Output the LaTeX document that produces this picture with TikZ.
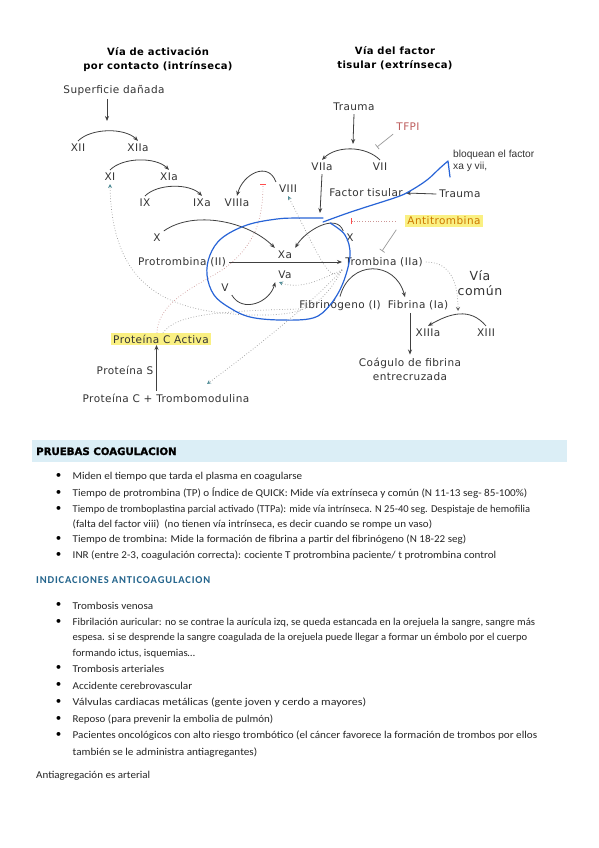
\documentclass[tikz,border=0pt]{standalone}
\usepackage{fontspec}
\setmainfont{DejaVu Sans}[LetterSpace=4]
\newfontfamily\notefont{Carlito}
\newfontfamily\handfont{Liberation Sans}
\newfontfamily\heavyfont{DejaVu Sans Bold}[FakeBold=1.5]
\newcommand{\fitw}[2]{\resizebox{#1pt}{\height}{#2}}
\usetikzlibrary{arrows.meta,calc}
\definecolor{penblue}{RGB}{40,100,215}
\definecolor{hlyellow}{RGB}{250,240,130}
\definecolor{antiorange}{RGB}{205,120,0}
\definecolor{tfpired}{RGB}{190,95,95}
\definecolor{fbteal}{RGB}{80,140,150}
\definecolor{bandblue}{RGB}{219,238,246}
\definecolor{headteal}{RGB}{35,100,140}
\definecolor{inhred}{RGB}{205,150,150}

\begin{document}
\begin{tikzpicture}[x=1pt,y=1pt,
  lbl/.style={font=\fontsize{10.5}{12}\selectfont, inner sep=3pt, text=black!80},
  ttl/.style={font=\fontsize{10}{14}\selectfont\bfseries, align=center},
  arc/.style={draw=black!75, line width=0.8pt, -{Stealth[length=5pt,width=4pt]}},
  fb/.style={draw=black!40, dotted, line width=0.7pt, -{Stealth[length=4pt,width=4pt,color=fbteal]}},
  inh/.style={draw=inhred, dotted, line width=0.7pt, -{Bar[width=6pt,color=red!70]}},
  blk/.style={draw=black!40, line width=0.7pt, -{Bar[width=6pt]}},
  pen/.style={draw=penblue, line width=1.2pt, line cap=round, line join=round},
  hl/.style={fill=hlyellow, inner xsep=2pt, inner ysep=1.5pt},
  note/.style={font=\notefont\fontsize{10.5}{13}\selectfont, anchor=base west, inner sep=0pt, text=black!85},
  bul/.style={note, label={[font=\notefont\fontsize{11}{13}\selectfont, inner sep=0pt, label distance=11pt]left:\textbullet}},
]
\fill[white] (0,0) rectangle (599,-848);
\useasboundingbox (0,0) rectangle (599,-848);

\node[ttl] (titleint) at (158,-60) {Vía de activación\\por contacto (intrínseca)};
\node[ttl] (titleext) at (395,-58) {Vía del factor\\tisular (extrínseca)};

\node[lbl] (sup) at (114,-91) {Superficie dañada};
\coordinate (c12) at (107,-121);
\node[lbl] (xii) at (78,-148) {XII};
\node[lbl] (xiia) at (138,-148) {XIIa};
\node[lbl] (xi) at (110,-177) {XI};
\node[lbl] (xia) at (169,-177) {XIa};
\node[lbl] (ix) at (145,-203) {IX};
\node[lbl] (ixa) at (202,-203) {IXa};
\node[lbl] (viiia) at (237,-203) {VIIIa};
\node[lbl] (viii) at (288,-189) {VIII};
\node[lbl] (xleft) at (157,-238) {X};
\node[lbl] (xa) at (285,-255) {Xa};
\node[lbl] (va) at (285,-275) {Va};
\node[lbl] (pro) at (182,-262) {Protrombina (II)};
\node[lbl] (trom) at (384,-262) {Trombina (IIa)};
\node[lbl] (v) at (225,-288) {V};

\node[lbl] (traumatop) at (354,-107) {Trauma};
\coordinate (c7) at (353,-144);
\node[lbl, text=tfpired] (tfpi) at (408,-127) {TFPI};
\coordinate (ctfpi) at (377,-147);
\node[lbl] (viia) at (322,-167) {VIIa};
\node[lbl] (vii) at (380,-167) {VII};
\node[lbl] (ft) at (366,-193) {Factor tisular};
\node[lbl] (traumaright) at (460,-194) {Trauma};
\coordinate (cxa) at (320,-213);
\node[lbl] (xright) at (350,-238) {X};
\node[lbl, hl, text=antiorange] (anti) at (444,-221) {Antitrombina};
\coordinate (cat) at (351,-221);
\node[lbl, align=center, font=\fontsize{12.5}{15}\selectfont] (comun) at (480,-283) {Vía\\común};
\node[lbl] (fbg) at (340,-305) {Fibrinógeno (I)};
\node[lbl] (fbn) at (418,-305) {Fibrina (Ia)};
\coordinate (cxiii) at (458,-311);
\node[lbl] (xiiia) at (428,-333) {XIIIa};
\node[lbl] (xiii) at (486,-333) {XIII};
\node[lbl, align=center, font=\fontsize{10.5}{14}\selectfont] (coag) at (410,-369) {Coágulo de fibrina\\entrecruzada};

\node[lbl, hl] (pca) at (161,-339) {Proteína C Activa};
\node[lbl] (ps) at (125,-370) {Proteína S};
\node[lbl] (pct) at (166,-398) {Proteína C + Trombomodulina};
\coordinate (pcttop) at (207,-384);
\coordinate (cviiia) at (263,-184);
\coordinate (cmeet) at (300,-309);

\node[font=\handfont\fontsize{10.2}{11.5}\selectfont, align=left, anchor=west, text=black!80, inner sep=0pt] (nota) at (453,-161) {bloquean el factor\\xa y vii,};

\draw[arc] (sup.south -| c12) -- (c12);
\draw[arc] (xii.north) to[out=45,in=135,looseness=0.8] (xiia.north);
\draw[arc] (xi.north) to[out=45,in=135,looseness=0.8] (xia.north);
\draw[arc] (ix.north) to[out=45,in=135,looseness=0.8] (ixa.north);
\draw[arc] (viii.north west) to[out=110,in=75,looseness=1.4] (viiia.north);
\draw[arc] (xleft.north east) to[out=35,in=135,looseness=0.85] (xa.north west);
\draw[arc] (pro.east) -- (trom.west);
\draw[arc] (v.south east) to[out=-60,in=-105,looseness=1.2] (va.south west);

\draw[arc] (traumatop.south) -- (c7);
\draw[blk] (tfpi.south west) -- (ctfpi);
\draw[arc] (vii.north) to[out=135,in=45,looseness=0.9] (viia.north);
\draw[arc] (traumaright.west) -- (ft.east);
\draw[arc] (viia.south) -- (cxa);
\draw[arc] (xright.north west) to[out=110,in=60] (xa.north east);
\draw[inh] ([xshift=-10pt]anti.west) -- (cat);
\draw[blk] ($(anti.south west)+(-9,-3)$) -- (382,-251);
\draw[arc] (fbg.north) to[out=75,in=105,looseness=1.5] ([xshift=-13pt]fbn.north);
\draw[arc] (fbn.south -| coag.north) -- (coag.north);
\draw[arc] (xiii.north) to[out=130,in=30,looseness=1.1] (xiiia.north);
\draw[draw=black!40, dotted, line width=0.7pt, -{Stealth[length=4pt,width=4pt,color=black!60]}] (trom.east) .. controls (452,-262) and (458,-285) .. (cxiii);
\draw[arc] (pct.north -| ps.east) -- (pca.south -| ps.east);

\draw[fb] (trom.south west) .. controls (320,-310) and (300,-316) .. (250,-315) .. controls (170,-312) and (112,-290) .. (xi.south);
\draw[fb] (trom.south west) .. controls (320,-280) and (300,-290) .. (va.south -| 279,0);
\draw[fb] (trom.south west) .. controls (315,-300) and (260,-345) .. (pcttop);
\draw[fb] (trom.south west) .. controls (330,-285) and (322,-262) .. (viii.south);
\draw[inh] ([xshift=-4pt]pca.north) .. controls (158,-300) and (200,-285) .. (225,-268) .. controls (255,-245) and (263,-220) .. (cviiia);
\draw[draw=black!40, dotted, line width=0.7pt] ([xshift=2pt]pca.north) .. controls (175,-315) and (215,-311) .. (cmeet);

\draw[pen] plot[smooth, tension=0.6] coordinates {(330,-223) (345,-235) (350,-255) (343,-283) (330,-305) (313,-318) (280,-320) (250,-317) (230,-308) (214,-295) (207,-275) (210,-255) (222,-238) (247,-225) (277,-219) (300,-218) (323,-218)};
\draw[pen] plot[smooth, tension=0.6] coordinates {(323,-222) (345,-214) (363,-208) (397,-197) (410,-191) (427,-180) (440,-168) (448,-161)} -- (450,-177);

\fill[bandblue] (32,-440) rectangle (567,-462);
\node[font=\heavyfont\fontsize{10.2}{12}\selectfont, anchor=base west, inner sep=0pt] (pruebas) at (36,-455) {PRUEBAS COAGULACION};
\node[bul] (p1) at (72.5,-479) {\fitw{229.5}{Miden el tiempo que tarda el plasma en coagularse}};
\node[bul] (p2) at (72.5,-496) {\fitw{454.5}{Tiempo de protrombina (TP) o Índice de QUICK: Mide vía extrínseca y común (N 11-13 seg- 85-100\%)}};
\node[bul] (p3) at (72.5,-512) {\fitw{457.5}{Tiempo de tromboplastina parcial activado (TTPa): mide vía intrínseca. N 25-40 seg. Despistaje de hemofilia}};
\node[note] (p3b) at (72.5,-527) {\fitw{359.5}{(falta del factor viii)\ \ (no tienen vía intrínseca, es decir cuando se rompe un vaso)}};
\node[bul] (p4) at (72.5,-542) {\fitw{393.5}{Tiempo de trombina: Mide la formación de fibrina a partir del fibrinógeno (N 18-22 seg)}};
\node[bul] (p5) at (72.5,-558) {\fitw{423.5}{INR (entre 2-3, coagulación correcta): cociente T protrombina paciente/ t protrombina control}};

\node[note, font=\notefont\fontsize{10.5}{12}\selectfont\bfseries\addfontfeature{LetterSpace=8}, text=headteal] (indic) at (36,-583) {INDICACIONES ANTICOAGULACION};
\node[bul] (i1) at (72.5,-609) {\fitw{80.5}{Trombosis venosa}};
\node[bul] (i2) at (72.5,-625) {\fitw{462.5}{Fibrilación auricular: no se contrae la aurícula izq, se queda estancada en la orejuela la sangre, sangre más}};
\node[note] (i2b) at (72.5,-640) {\fitw{454.5}{espesa. si se desprende la sangre coagulada de la orejuela puede llegar a formar un émbolo por el cuerpo}};
\node[note] (i2c) at (72.5,-656) {\fitw{122.5}{formando ictus, isquemias…}};
\node[bul] (i3) at (72.5,-672) {\fitw{91.5}{Trombosis arteriales}};
\node[bul] (i4) at (72.5,-689) {\fitw{119.5}{Accidente cerebrovascular}};
\node[bul] (i5) at (72.5,-705) {\fitw{293.5}{Válvulas cardiacas metálicas (gente joven y cerdo a mayores)}};
\node[bul] (i6) at (72.5,-722) {\fitw{200.5}{Reposo (para prevenir la embolia de pulmón)}};
\node[bul] (i7) at (72.5,-738) {\fitw{464.5}{Pacientes oncológicos con alto riesgo trombótico (el cáncer favorece la formación de trombos por ellos}};
\node[note] (i7b) at (72.5,-755) {\fitw{184.5}{también se le administra antiagregantes)}};
\node[note] (antiag) at (36,-778) {\fitw{114}{Antiagregación es arterial}};
\end{tikzpicture}
\end{document}
